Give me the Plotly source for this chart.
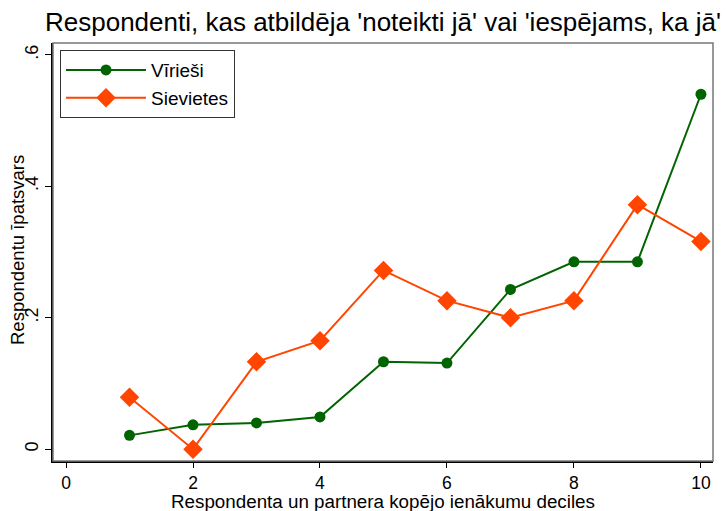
import plotly.graph_objects as go

deciles = [1, 2, 3, 4, 5, 6, 7, 8, 9, 10]
virieši = [0.021, 0.037, 0.040, 0.049, 0.133, 0.131, 0.243, 0.285, 0.285, 0.540]
sievietes = [0.079, 0.0, 0.133, 0.165, 0.272, 0.226, 0.200, 0.226, 0.372, 0.316]
x_ticks = [0, 2, 4, 6, 8, 10]
y_ticks = [0, 0.2, 0.4, 0.6]
y_tick_labels = ["0", ".2", ".4", ".6"]

FONT = "Liberation Sans, Arial, sans-serif"
W, H = 728, 511
ML, MR, MT, MB = 53, 15, 43, 50

fig = go.Figure()
fig.add_trace(go.Scatter(
    x=deciles, y=virieši, name="Vīrieši", mode="lines+markers",
    line=dict(color="#006400", width=2),
    marker=dict(symbol="circle", size=11, color="#006400"),
))
fig.add_trace(go.Scatter(
    x=deciles, y=sievietes, name="Sievietes", mode="lines+markers",
    line=dict(color="#FF4500", width=2),
    marker=dict(symbol="diamond", size=15, color="#FF4500"),
))

fig.update_layout(
    width=W, height=H,
    margin=dict(l=ML, r=MR, t=MT, b=MB, autoexpand=False),
    paper_bgcolor="white", plot_bgcolor="white",
    font=dict(family=FONT, color="black", size=18),
    title=dict(
        text="Respondenti, kas atbildēja 'noteikti jā' vai 'iespējams, ka jā'",
        x=45 / W, xanchor="left", xref="container",
        y=1 - 22 / H, yanchor="middle", yref="container",
        font=dict(size=26, family=FONT, color="black"),
    ),
    showlegend=True,
    legend=dict(
        x=0.0106, y=0.983, xanchor="left", yanchor="top",
        bordercolor="#333333", borderwidth=1, bgcolor="white",
        font=dict(size=19, family=FONT),
        itemwidth=80, tracegroupgap=0,
    ),
    xaxis=dict(
        range=[-0.205, 10.19], tickvals=x_ticks, ticks="outside", ticklen=5,
        tickwidth=1, tickcolor="black", automargin=False,
        showline=True, linecolor="black", linewidth=2,
        showgrid=False, zeroline=False,
        tickfont=dict(size=17.5),
    ),
    yaxis=dict(
        range=[-0.018, 0.618], tickvals=y_ticks, ticktext=y_tick_labels,
        ticks="outside", ticklen=6, tickwidth=1, tickcolor="black",
        tickangle=-90, automargin=False,
        showline=True, linecolor="black", linewidth=2,
        showgrid=False, zeroline=False,
        tickfont=dict(size=18),
    ),
    annotations=[
        dict(text="Respondenta un partnera kopējo ienākumu deciles",
             xref="paper", yref="paper", x=0.5, y=-(501.5 - (H - MB)) / (H - MT - MB),
             xanchor="center", yanchor="middle", showarrow=False,
             font=dict(size=18.8, family=FONT, color="black")),
        dict(text="Respondentu īpatsvars", textangle=-90,
             xref="paper", yref="paper", x=-(ML - 17) / (W - ML - MR),
             y=(H - MB - 250) / (H - MT - MB),
             xanchor="center", yanchor="middle", showarrow=False,
             font=dict(size=18.5, family=FONT, color="black")),
    ],
    shapes=[dict(type="rect", xref="paper", yref="paper", x0=0, y0=0, x1=1, y1=1,
                 line=dict(color="#777777", width=1.5), layer="above")],
)

fig.write_html(
    "out.html",
    config={"displayModeBar": False},
    post_script="document.body.style.margin='0';document.body.style.overflow='hidden';",
)
